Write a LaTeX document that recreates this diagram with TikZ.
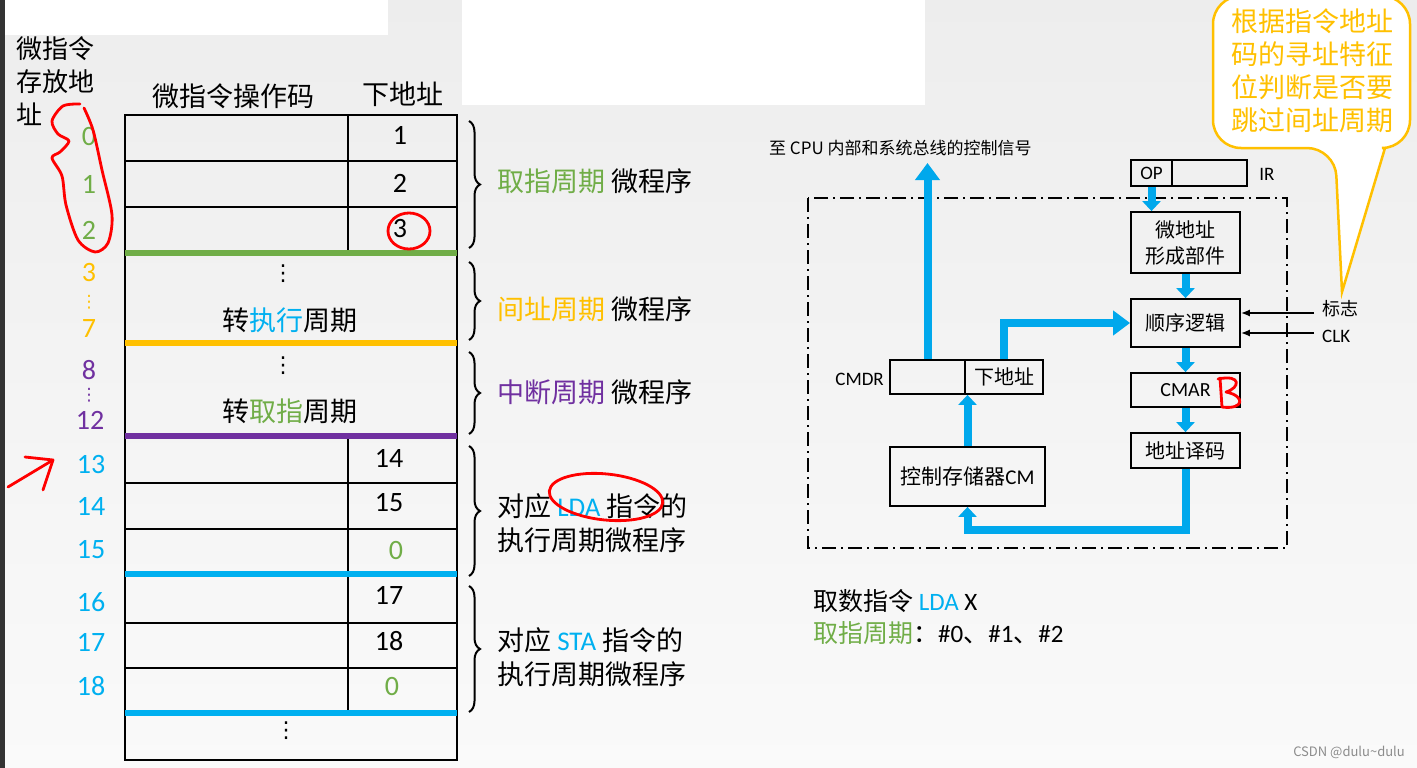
\documentclass[tikz,border=0pt]{standalone}
\usepackage{fontspec}
\setmainfont{Noto Sans CJK SC}
\newfontfamily\lat{Carlito}
\newfontfamily\sym{DejaVu Sans}
\usetikzlibrary{arrows.meta,decorations.pathreplacing,positioning}

\definecolor{cgreen}{HTML}{70AD47}
\definecolor{corange}{HTML}{FFC000}
\definecolor{cpurple}{HTML}{7030A0}
\definecolor{cblue}{HTML}{00B0F0}
\definecolor{cbus}{HTML}{00A8EC}

\tikzset{
  num/.style={font=\lat\fontsize{28}{28}\selectfont,inner sep=0pt},
  vdot/.style={font=\sym\fontsize{22}{22}\selectfont,inner sep=0pt},
  lbl/.style={anchor=west,align=left,inner sep=0pt,font=\fontsize{27}{34}\selectfont},
  hd/.style={inner sep=0pt,font=\fontsize{27}{33}\selectfont},
  tbl/.style={line width=2.4pt},
  sep/.style={line width=6pt},
  curly/.style={decorate,decoration={brace,amplitude=11pt},line width=2pt},
  blk/.style={draw,line width=1.8pt,minimum width=109pt,inner sep=0pt,align=center,font=\fontsize{20}{26}\selectfont},
  bus/.style={draw=cbus,line width=8pt,-{Triangle[width=18pt,length=10pt]}},
  bigbus/.style={draw=cbus,line width=8pt,-{Triangle[width=24pt,length=17pt]}},
  sig/.style={line width=1.5pt,-{Latex[length=9pt,width=7pt]}},
  pen/.style={red,line width=2.8pt,line cap=round,line join=round}
}

\begin{document}
\begin{tikzpicture}[x=1pt,y=-1pt]
\clip (0,0) rectangle (1417,768);
% background of the slide
\shade[top color=black!7,bottom color=black!2] (0,0) rectangle (1417,768);
\fill[black!80] (0,0) rectangle (5,768);
\fill[white] (5,0) rectangle (388,35);
\fill[white] (462,0) rectangle (925,105);

% ---- control memory table ----
\node[anchor=north west,align=left,inner sep=0pt,font=\fontsize{26}{33}\selectfont] (addrhd) at (16,36) {微指令\\存放地\\址};
\node[hd] (ophd) at (233,96) {微指令操作码};
\node[hd] (nxthd) at (403,94) {下地址};

\draw[tbl] (125,115) rectangle (457,760);
\draw[tbl] (125,161) -- (457,161);
\draw[tbl] (125,207) -- (457,207);
\draw[tbl] (125,483) -- (457,483);
\draw[tbl] (125,529) -- (457,529);
\draw[tbl] (125,623) -- (457,623);
\draw[tbl] (125,668) -- (457,668);
\draw[tbl] (348,115) -- (348,253);
\draw[tbl] (348,436) -- (348,713);
\draw[sep,cgreen] (125,253) -- (457,253);
\draw[sep,corange] (125,343) -- (457,343);
\draw[sep,cpurple] (125,436) -- (457,436);
\draw[sep,cblue] (125,574) -- (457,574);
\draw[sep,cblue] (125,713) -- (457,713);

% next addresses
\node[num] (x0) at (400,135) {1};
\node[num] (x1) at (400,183) {2};
\node[num] (x2) at (400,229) {3};
\node[num] (x13) at (389,458) {14};
\node[num] (x14) at (389,503) {15};
\node[num,cgreen] (x15) at (396,551) {0};
\node[num] (x16) at (389,595) {17};
\node[num] (x17) at (389,641) {18};
\node[num,cgreen] (x18) at (392,687) {0};

% cells spanning the row
\node[vdot] (dots1) at (283,274) {⋮};
\node[hd] (toexec) at (290,320) {转\textcolor{cblue}{执行}周期};
\node[vdot] (dots2) at (283,366) {⋮};
\node[hd] (tofetch) at (290,411) {转\textcolor{cgreen}{取指}周期};
\node[vdot] (dots3) at (286,731) {⋮};

% micro-instruction addresses
\node[num,cgreen] (a0) at (89,137) {0};
\node[num,cgreen] (a1) at (89,184) {1};
\node[num,cgreen] (a2) at (89,230) {2};
\node[num,corange] (a3) at (89,273) {3};
\node[vdot,corange,font=\sym\fontsize{17}{17}\selectfont] (a3d) at (89,302) {⋮};
\node[num,corange] (a7) at (89,329) {7};
\node[num,cpurple] (a8) at (89,370) {8};
\node[vdot,cpurple,font=\sym\fontsize{17}{17}\selectfont] (a8d) at (89,395) {⋮};
\node[num,cpurple] (a12) at (90,420) {12};
\node[num,cblue] (a13) at (91,465) {13};
\node[num,cblue] (a14) at (91,506) {14};
\node[num,cblue] (a15) at (91,550) {15};
\node[num,cblue] (a16) at (91,602) {16};
\node[num,cblue] (a17) at (91,642) {17};
\node[num,cblue] (a18) at (91,686) {18};

% braces and their labels
\draw[curly] (469,121) -- (469,248);
\draw[curly] (469,262) -- (469,340);
\draw[curly] (469,352) -- (469,434);
\draw[curly] (469,446) -- (469,576);
\draw[curly] (469,586) -- (469,712);
\node[lbl] (pfetch) at (497,181) {\textcolor{cgreen}{取指周期} 微程序};
\node[lbl] (pind) at (497,309) {\textcolor{corange}{间址周期} 微程序};
\node[lbl] (pint) at (497,392) {\textcolor{cpurple}{中断周期} 微程序};
\node[lbl] (plda) at (497,523) {对应 \textcolor{cblue}{\lat LDA} 指令的\\执行周期微程序};
\node[lbl] (psta) at (497,657) {对应 \textcolor{cblue}{\lat STA} 指令的\\执行周期微程序};

% ---- micro-programmed control unit ----
\node[anchor=west,inner sep=0pt,font=\fontsize{17}{17}\selectfont] (sigtxt) at (769,148) {至 CPU 内部和系统总线的控制信号};
\draw[line width=2.2pt,dash pattern=on 14pt off 5pt on 2pt off 5pt] (808,198) rectangle (1287,548);

\node[blk,minimum width=41pt,minimum height=26pt,font=\lat\fontsize{19}{19}\selectfont] (op) at (1151.5,173) {OP};
\node[blk,minimum width=75pt,minimum height=26pt] (irb) at (1209.5,173) {};
\node[inner sep=0pt,font=\lat\fontsize{19}{19}\selectfont] (irtxt) at (1267,174) {IR};
\node[blk,minimum height=61pt] (uaddr) at (1185.5,242.5) {微地址\\形成部件};
\node[blk,minimum height=48pt] (seq) at (1185.5,323) {顺序逻辑};
\node[blk,minimum height=34pt,font=\lat\fontsize{20}{20}\selectfont] (cmar) at (1185.5,390) {CMAR};
\node[blk,minimum height=35pt] (dec) at (1185.5,450.5) {地址译码};
\node[blk,minimum width=75pt,minimum height=34pt] (cmdrl) at (927.5,377) {};
\node[blk,minimum width=78pt,minimum height=34pt] (cmdrn) at (1004,377) {下地址};
\node[anchor=east,inner sep=0pt,font=\lat\fontsize{19}{19}\selectfont] (cmdrtxt) at (884,379) {CMDR};
\node[blk,minimum width=155pt,minimum height=59pt,font=\fontsize{21}{21}\selectfont] (cm) at (967.5,476.5) {控制存储器\lat CM};
\node[anchor=west,inner sep=0pt,font=\fontsize{18}{18}\selectfont] (flag) at (1322,309) {标志};
\node[anchor=west,inner sep=0pt,font=\lat\fontsize{19}{19}\selectfont] (clk) at (1322,336) {CLK};
\coordinate (sigtop) at (930,163);
\coordinate (lowbend) at (1190,530);
\coordinate (flagin) at (1314,313);
\coordinate (clkin) at (1314,333);

\draw[bigbus] (cmdrl.north) -- (cmdrl.north |- sigtop);
\draw[bus] (op.south) -- (op.south |- uaddr.north);
\draw[bus] (uaddr.south) -- (seq.north);
\draw[bus] (seq.south) -- (cmar.north);
\draw[bus] (cmar.south) -- (dec.north);
\draw[bigbus] (cmdrn.north) |- (seq.west);
\draw[bus] (dec.south) -- (dec.south |- lowbend) -| (cm.south);
\draw[bus] (cm.north) -- (cm.north |- cmdrl.south);
\draw[sig] (flagin) -- (flagin -| seq.east);
\draw[sig] (clkin) -- (clkin -| seq.east);

% ---- speech bubble ----
\draw[corange,line width=2.5pt,fill=white,rounded corners=28pt] (1213,-4) -- (1213,148) -- (1335,148) [sharp corners] -- (1342,292) -- (1385,148) [rounded corners=28pt] -- (1410,148) -- (1410,-4) -- cycle;
\node[align=center,inner sep=0pt,text=corange,font=\fontsize{27}{33}\selectfont] (tip) at (1312,71) {根据指令地址\\码的寻址特征\\位判断是否要\\跳过间址周期};

% ---- notes below ----
\node[anchor=west,inner sep=0pt,font=\fontsize{25}{25}\selectfont] (ldanote) at (813,601) {取数指令 \textcolor{cblue}{\lat LDA} {\lat X}};
\node[anchor=west,inner sep=0pt,font=\fontsize{25}{25}\selectfont] (fetchnote) at (813,633) {\textcolor{cgreen}{取指周期}：{\lat\#0}、{\lat\#1}、{\lat\#2}};
\node[anchor=east,inner sep=0pt,text=black!45,font=\fontsize{13}{13}\selectfont] (mark) at (1405,752) {CSDN @dulu\textasciitilde dulu};

% ---- red handwriting ----
\draw[pen] plot[smooth] coordinates {(80,104) (63,106) (52,121) (58,134) (69,141) (60,152) (52,158) (62,176) (66,205) (78,240) (95,252) (108,243) (112,215) (102,170) (93,130) (84,108)};
\draw[pen] (409,231) ellipse (21 and 18);
\draw[pen] (8,487) -- (53,460) -- (25,457);
\draw[pen] (53,460) -- (43,490);
\draw[pen,rotate around={-6:(606,497)}] (606,497) ellipse (57 and 23);
\draw[pen] (1220,378) -- (1222,407);
\draw[pen] (1218,379) .. controls (1242,374) and (1240,388) .. (1226,392) .. controls (1246,396) and (1244,410) .. (1222,407);
\end{tikzpicture}
\end{document}
